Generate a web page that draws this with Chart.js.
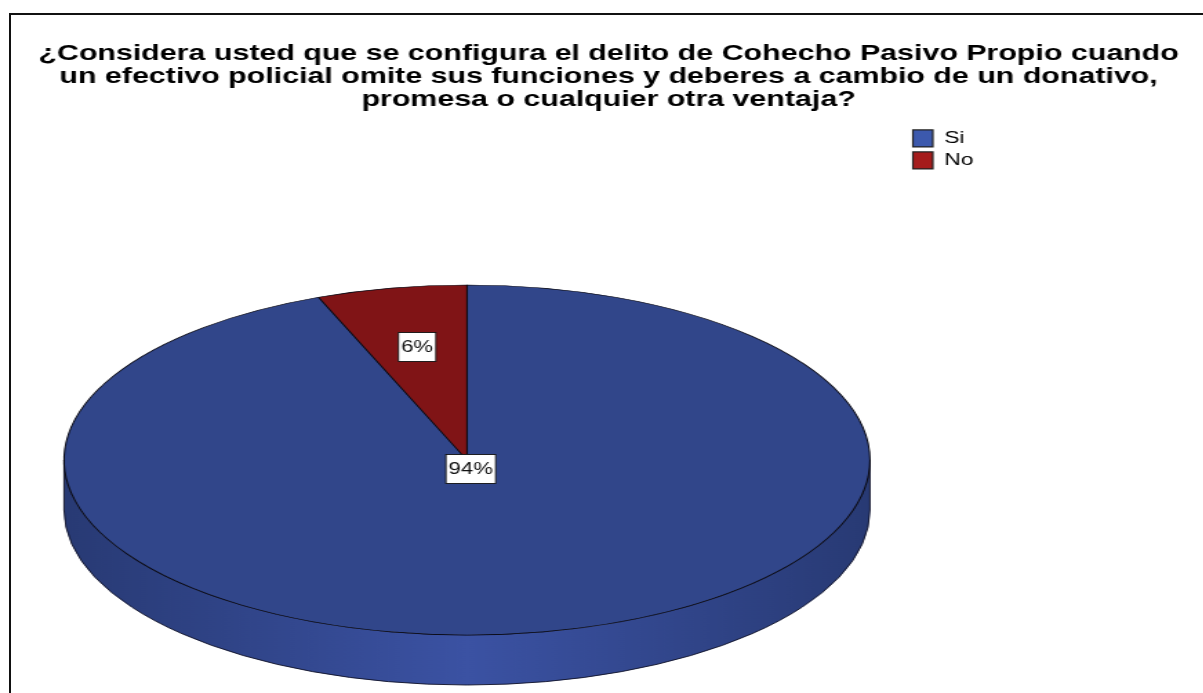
<!DOCTYPE html>
<html>
<head>
<meta charset="utf-8">
<script src="https://cdn.jsdelivr.net/npm/chart.js@4.4.1/dist/chart.umd.min.js"></script>
<style>
  html, body { margin: 0; padding: 0; background: #fff; overflow: hidden; }
  #wrap { position: relative; width: 1203px; height: 693px; overflow: hidden; }
  #frame { position: absolute; left: 9px; top: 13px; width: 1210px; height: 700px; border: 2px solid #111; box-sizing: border-box; }
  /* the source picture is stretched sideways, so stretch the canvas too */
  #stretch { position: absolute; left: 0; top: 0; width: 872px; height: 693px; transform: scaleX(1.38); transform-origin: 0 0; }
  canvas { display: block; }
</style>
</head>
<body>
<div id="wrap">
  <div id="frame"></div>
  <div id="stretch"><canvas id="pieChart" width="872" height="693"></canvas></div>
</div>
<script>
const categories = ["Si", "No"];
const values = [94, 6];
const titleLines = [
  "¿Considera usted que se configura el delito de Cohecho Pasivo Propio cuando",
  "un efectivo policial omite sus funciones y deberes a cambio de un donativo,",
  "promesa o cualquier otra ventaja?"
];

const topColors = ["#31468a", "#801416"];
const legendColors = ["#3c59ad", "#a51c1c"];
const sideStops = [["#283a74", "#3b52a3", "#283a74"], ["#5e0e0f", "#8e1819", "#5e0e0f"]];
const fontFamily = "'Liberation Sans', Arial, sans-serif";

// where the flattened pie goes (canvas units, before the sideways stretch)
const pie = { cx: 338.4, cy: 460, rx: 292, ry: 175, depth: 50 };
const legendLeft = 656.5;

function bandPath(ctx, a, b) {
  ctx.beginPath();
  ctx.ellipse(pie.cx, pie.cy, pie.rx, pie.ry, 0, a, b, false);
  ctx.lineTo(pie.cx + pie.rx * Math.cos(b), pie.cy + pie.depth + pie.ry * Math.sin(b));
  ctx.ellipse(pie.cx, pie.cy + pie.depth, pie.rx, pie.ry, 0, b, a, true);
  ctx.closePath();
}

const pie3d = {
  id: "pie3d",
  afterLayout(chart) {
    // legend sits next to the pie, not at the far edge
    let lg = chart.legend;
    let w = lg.width;
    lg.left = legendLeft;
    lg.right = legendLeft + w;
  },
  beforeDatasetsDraw(chart) {
    let ctx = chart.ctx;
    let arcs = chart.getDatasetMeta(0).data;
    // side of the disc, only the front half shows
    arcs.forEach((arc, i) => {
      let p = arc.getProps(["startAngle", "endAngle"], true);
      [0, 2 * Math.PI, -2 * Math.PI].forEach((k) => {
        let lo = Math.max(p.startAngle, k);
        let hi = Math.min(p.endAngle, k + Math.PI);
        if (hi <= lo) return;
        let g = ctx.createLinearGradient(pie.cx - pie.rx, 0, pie.cx + pie.rx, 0);
        g.addColorStop(0, sideStops[i][0]);
        g.addColorStop(0.5, sideStops[i][1]);
        g.addColorStop(1, sideStops[i][2]);
        ctx.save();
        bandPath(ctx, lo, hi);
        ctx.fillStyle = g;
        ctx.fill();
        ctx.strokeStyle = "rgba(15,18,40,0.9)";
        ctx.lineWidth = 1;
        ctx.stroke();
        ctx.restore();
      });
    });
    // squash the library's circle into the top ellipse
    let a = arcs[0].getProps(["x", "y", "outerRadius"], true);
    ctx.save();
    ctx.translate(pie.cx, pie.cy);
    ctx.scale(pie.rx / a.outerRadius, pie.ry / a.outerRadius);
    ctx.translate(-a.x, -a.y);
  },
  afterDatasetsDraw(chart) {
    let ctx = chart.ctx;
    ctx.restore();
    let arcs = chart.getDatasetMeta(0).data;
    let total = values.reduce((s, v) => s + v, 0);
    ctx.save();
    ctx.font = "16px " + fontFamily;
    ctx.textAlign = "center";
    ctx.textBaseline = "middle";
    arcs.forEach((arc, i) => {
      let p = arc.getProps(["startAngle", "endAngle"], true);
      let mid = (p.startAngle + p.endAngle) / 2;
      let frac = values[i] / total > 0.5 ? 0.05 : 0.66;
      let x = pie.cx + pie.rx * frac * Math.cos(mid);
      let y = pie.cy + pie.ry * frac * Math.sin(mid);
      let txt = Math.round(values[i] / total * 100) + "%";
      let w = ctx.measureText(txt).width + 4;
      let h = 29;
      ctx.fillStyle = "#fff";
      ctx.fillRect(x - w / 2, Math.round(y - h / 2) + 0.5, w, h);
      ctx.strokeStyle = "#111";
      ctx.lineWidth = 0.9;
      ctx.strokeRect(x - w / 2, Math.round(y - h / 2) + 0.5, w, h);
      ctx.fillStyle = "#111";
      ctx.fillText(txt, x, y + 1);
    });
    ctx.restore();
  }
};

let chart = new Chart(document.getElementById("pieChart").getContext("2d"), {
  type: "pie",
  data: {
    labels: categories,
    datasets: [{
      data: values,
      backgroundColor: topColors,
      borderColor: "#0a0a14",
      borderWidth: 1.0,
      clip: false
    }]
  },
  options: {
    responsive: false,
    animation: false,
    events: [],
    layout: { padding: { left: 10, right: 0, top: 22, bottom: 10 } },
    plugins: {
      tooltip: { enabled: false },
      title: {
        display: true,
        text: titleLines,
        color: "#000",
        font: { family: fontFamily, size: 22, weight: "bold", lineHeight: 1.06 },
        padding: { top: 20, bottom: 13 }
      },
      legend: {
        display: true,
        position: "right",
        align: "start",
        fullSize: false,
        labels: {
          color: "#111",
          font: { family: fontFamily, size: 16.5 },
          boxWidth: 14.5,
          boxHeight: 17,
          padding: 5,
          generateLabels(chart) {
            return categories.map((c, i) => ({
              text: c,
              fillStyle: legendColors[i],
              strokeStyle: "#222",
              lineWidth: 1.2,
              hidden: false,
              index: i
            }));
          }
        }
      }
    }
  },
  plugins: [pie3d]
});
</script>
</body>
</html>
